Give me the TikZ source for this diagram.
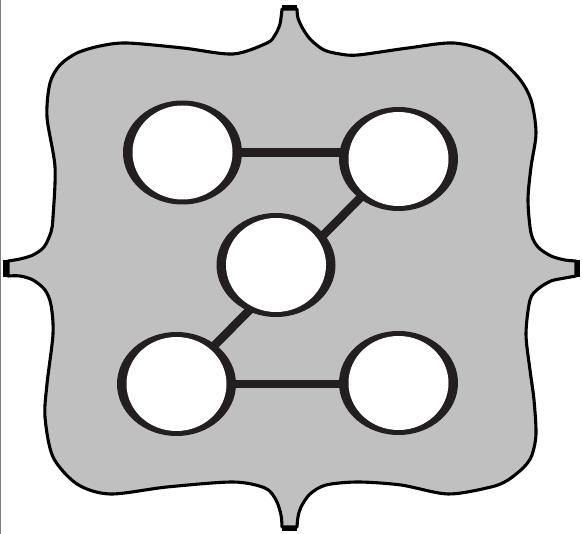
\documentclass[tikz,border=0pt]{standalone}
\usetikzlibrary{shapes.geometric,calc}
\definecolor{shapegray}{RGB}{192,192,192}
\definecolor{inkblack}{RGB}{35,31,32}
\pgfdeclarelayer{bg}
\pgfsetlayers{bg,main}
\begin{document}
\begin{tikzpicture}[x=1pt,y=-1pt,
  vert/.style={ellipse, fill=inkblack, inner sep=0pt, minimum width=119pt, minimum height=104pt,
    path picture={\fill[white] (path picture bounding box.center) ellipse [x radius=50pt, y radius=47pt];}},
  link/.style={draw=inkblack, line width=8.5pt},
  outline/.style={fill=shapegray, draw=black, line width=3.1pt, line join=round},
  tipbar/.style={fill=black}]
\useasboundingbox (0,0) rectangle (582,534);
\begin{pgfonlayer}{bg}
\fill[white] (0,0) rectangle (582,534);
\draw[gray, line width=1.3pt] (0.7,0) -- (0.7,534);
\path[outline]
  plot[smooth] coordinates {(297,9) (298,18) (303,29) (311,40) (324,50) (340,54) (358,55) (408,48) (454,43) (491,53) (518,77) (531,100) (536,133) (531,167) (528,200) (531,233) (538,247) (551,256) (565,260) (576,261)}
  -- plot[smooth] coordinates {(576,276) (565,278) (551,281) (538,289) (530,300) (526,334) (530,370) (534,400) (536,434) (532,455) (524,467) (508,480) (491,487) (448,494) (401,485) (358,482) (326,485) (310,494) (301,507) (298,517) (297,527)}
  -- plot[smooth] coordinates {(282,527) (281,515) (276,500) (265,488) (233,482) (167,487) (110,494) (77,484) (53,457) (45,417) (47,384) (53,334) (51,305) (45,290) (33,280) (20,276) (8,276)}
  -- plot[smooth] coordinates {(8,261) (20,259) (33,255) (44,247) (51,232) (53,217) (55,167) (47,117) (50,83) (60,65) (77,53) (100,46) (127,43) (183,48) (233,54) (267,43) (275,35) (280,24) (282,9)}
  -- cycle;
\end{pgfonlayer}
\fill[tipbar] (282,5) rectangle (297,9.5);
\fill[tipbar] (282,527) rectangle (297,531);
\fill[tipbar] (3,260) rectangle (8,277);
\fill[tipbar] (576,260) rectangle (580,277);
\node[vert] (A) at (182.5,152.5) {};
\node[vert] (B) at (398.5,159) {};
\node[vert] (C) at (276,265) {};
\node[vert] (D) at (176.5,384) {};
\node[vert] (E) at (398.5,383) {};
\coordinate (cc) at ($(B.center)!0.55!(D.center)$);
\begin{pgfonlayer}{bg}
\draw[link] (A.center) -- (A.center -| B.center);
\draw[link] (D.center) -- (D.center -| E.center);
\draw[link] (B.center) -- (cc);
\draw[link] (cc) -- (D.center);
\end{pgfonlayer}
\end{tikzpicture}
\end{document}
